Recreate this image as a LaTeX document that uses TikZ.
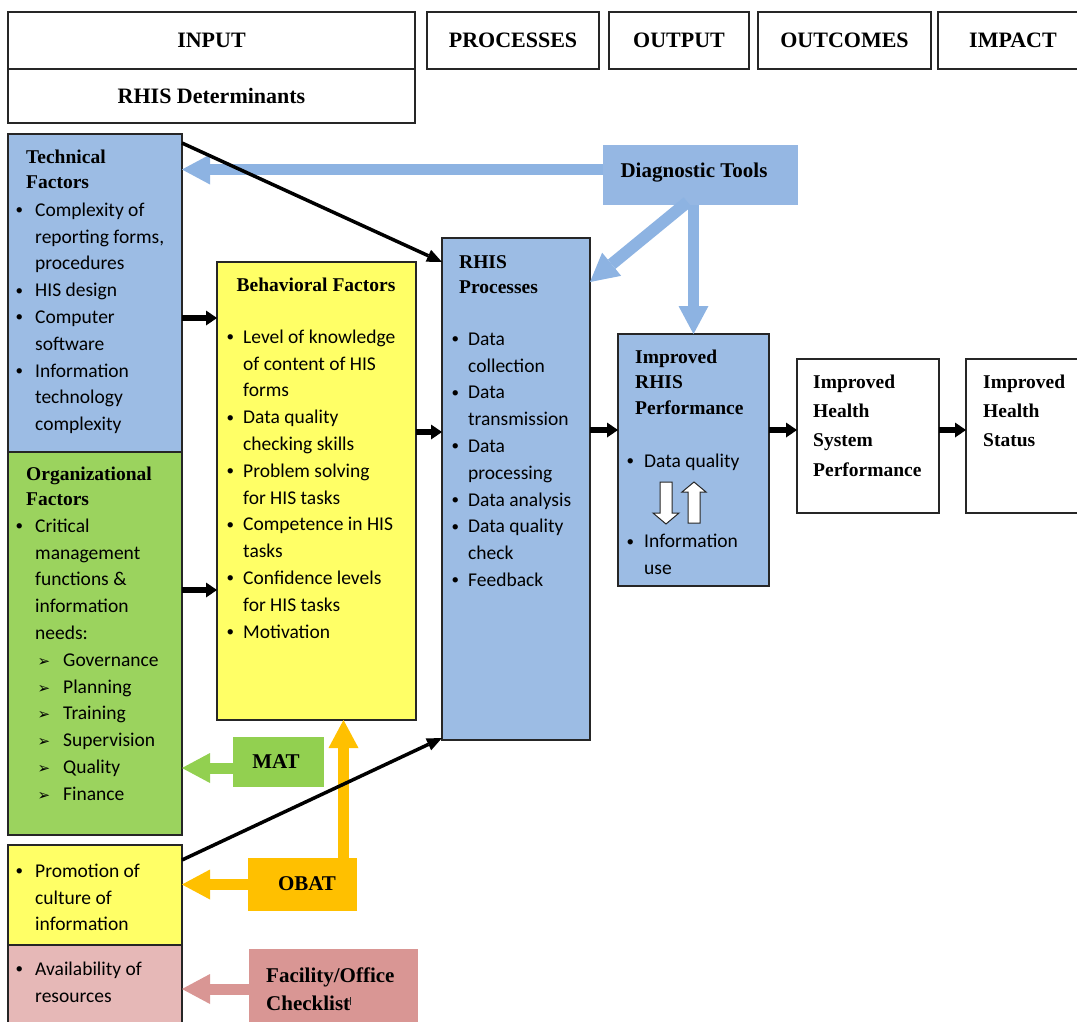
\documentclass[tikz,border=0pt]{standalone}
\usepackage{fontspec}
\setmainfont{Liberation Serif}
\setsansfont{Carlito}
\newfontfamily\symfont{DejaVu Sans}
\usetikzlibrary{arrows.meta,calc}

\definecolor{techblue}{HTML}{9CBCE4}
\definecolor{diagblue}{HTML}{95B7E3}
\definecolor{arrblue}{HTML}{8DB3E2}
\definecolor{orggreen}{HTML}{9BD35E}
\definecolor{matgreen}{HTML}{92D050}
\definecolor{ylw}{HTML}{FFFF66}
\definecolor{amber}{HTML}{FFC000}
\definecolor{rose}{HTML}{E6B8B7}
\definecolor{roseDark}{HTML}{D99694}
\definecolor{edge}{HTML}{262626}

% list lines: bullet item, continuation line, arrow sub-item
\newcommand\dotmark{\raisebox{1.5pt}{\fontsize{15pt}{15pt}\selectfont\textbullet}}
\newcommand\bl[2][11pt]{\strut\llap{\dotmark\hspace{#1}}#2}
\newcommand\cl[1]{\strut#1}
\newcommand\al[1]{\strut\hspace*{28pt}\llap{{\symfont\fontsize{15pt}{15pt}\selectfont ➢}\hspace{13pt}}#1}

\tikzset{
  box/.style={draw=edge, line width=1.2pt, anchor=north west, inner sep=0pt, outer sep=0pt},
  plain/.style={anchor=north west, inner sep=0pt, outer sep=0pt},
  hdr/.style={font=\fontsize{22pt}{26pt}\selectfont\bfseries},
  head/.style={anchor=north west, inner sep=0pt, align=left, font=\fontsize{19.5pt}{25.5pt}\selectfont\bfseries},
  headwide/.style={anchor=north west, inner sep=0pt, align=left, font=\fontsize{19.5pt}{29.3pt}\selectfont\bfseries},
  body/.style={anchor=north west, inner sep=0pt, align=left, font=\sffamily\fontsize{19.5pt}{26.8pt}\selectfont},
  tag/.style={inner sep=0pt, font=\fontsize{21pt}{28pt}\selectfont\bfseries},
  flow/.style={line width=5.5pt, -{Triangle[length=11pt,width=15pt,line width=0pt]}},
  link/.style={line width=3.5pt, -{Triangle[length=15pt,width=13pt,line width=0pt]}},
  block/.style={line width=11pt, -{Triangle[length=28pt,width=30pt,line width=0pt]}},
}

\begin{document}
\begin{tikzpicture}[x=1pt,y=-1pt]
\useasboundingbox (0,0) rectangle (1077,1021);

% column headers
\node[box,hdr,minimum width=407pt,minimum height=57pt] (inp) at (8,12) {INPUT};
\node[box,hdr,minimum width=407pt,minimum height=54pt] (determ) at (8,69) {RHIS Determinants};
\node[box,hdr,minimum width=172pt,minimum height=57pt] (proc) at (427,12) {PROCESSES};
\node[box,hdr,minimum width=140pt,minimum height=57pt] (outp) at (609,12) {OUTPUT};
\node[box,hdr,minimum width=173pt,minimum height=57pt] (outc) at (758,12) {OUTCOMES};
\node[box,hdr,minimum width=150pt,minimum height=57pt] (impact) at (938,12) {IMPACT};

% determinant boxes
\node[box,fill=techblue,minimum width=174pt,minimum height=318pt] (tech) at (8,134) {};
\node[box,fill=orggreen,minimum width=174pt,minimum height=383pt] (org) at (8,452) {};
\node[box,fill=ylw,minimum width=174pt,minimum height=100pt] (promo) at (8,845) {};
\node[box,fill=rose,minimum width=174pt,minimum height=95pt] (avail) at (8,945) {};
\node[box,fill=ylw,minimum width=199pt,minimum height=458pt] (behav) at (217,262) {};

% processes and results
\node[box,fill=techblue,minimum width=148pt,minimum height=502pt] (rhis) at (442,238) {};
\node[box,fill=techblue,minimum width=151pt,minimum height=252pt] (imp) at (618,334) {};
\node[box,minimum width=142pt,minimum height=154pt] (ihs) at (797,359) {};
\node[box,minimum width=125pt,minimum height=154pt] (ihst) at (966,359) {};

% assessment tools
\node[plain,fill=diagblue,minimum width=195pt,minimum height=60pt] (diag) at (603,145) {};
\node[plain,fill=matgreen,minimum width=91pt,minimum height=50pt] (mat) at (233,737) {};
\node[plain,fill=amber,minimum width=109pt,minimum height=53pt] (obat) at (248,858) {};
\node[plain,fill=roseDark,minimum width=169pt,minimum height=80pt] (fac) at (249,949) {};

% texts
\node[head] (techhd) at (26,145.15) {\strut Technical\\\strut Factors};
\node[body] (techtx) at (35,197.24) {\bl[12pt]{Complexity of}\\\cl{reporting forms,}\\\cl{procedures}\\\bl[12pt]{HIS design}\\\bl[12pt]{Computer}\\\cl{software}\\\bl[12pt]{Information}\\\cl{technology}\\\cl{complexity}};

\node[head] (orghd) at (26,462.15) {\strut Organizational\\\strut Factors};
\node[body] (orgtx) at (35,513.24) {\bl[12pt]{Critical}\\\cl{management}\\\cl{functions \&}\\\cl{information}\\\cl{needs:}\\\al{Governance}\\\al{Planning}\\\al{Training}\\\al{Supervision}\\\al{Quality}\\\al{Finance}};

\node[head,anchor=base] (behavhd) at (316,291) {Behavioral Factors};
\node[body] (behavtx) at (243,324.24) {\bl[9pt]{Level of knowledge}\\\cl{of content of HIS}\\\cl{forms}\\\bl[9pt]{Data quality}\\\cl{checking skills}\\\bl[9pt]{Problem solving}\\\cl{for HIS tasks}\\\bl[9pt]{Competence in HIS}\\\cl{tasks}\\\bl[9pt]{Confidence levels}\\\cl{for HIS tasks}\\\bl[9pt]{Motivation}};

\node[head] (rhishd) at (459,250.15) {\strut RHIS\\\strut Processes};
\node[body] (rhistx) at (468,326.24) {\bl[9pt]{Data}\\\cl{collection}\\\bl[9pt]{Data}\\\cl{transmission}\\\bl[9pt]{Data}\\\cl{processing}\\\bl[9pt]{Data analysis}\\\bl[9pt]{Data quality}\\\cl{check}\\\bl[9pt]{Feedback}};

\node[head] (imphd) at (635,345.15) {\strut Improved\\\strut RHIS\\\strut Performance};
\node[body] (imptx) at (644,448.24) {\bl[10pt]{Data quality}\\\strut\\\strut\\\bl[10pt]{Information}\\\cl{use}};

\node[headwide] (ihstx) at (813,367.5) {\strut Improved\\\strut Health\\\strut System\\\strut Performance};
\node[headwide] (ihsttx) at (983,367.5) {\strut Improved\\\strut Health\\\strut Status};

\node[body] (promotx) at (35,858.24) {\bl[12pt]{Promotion of}\\\cl{culture of}\\\cl{information}};
\node[body] (availtx) at (35,956.24) {\bl[12pt]{Availability of}\\\cl{resources}};

\node[tag,anchor=base] (diagtx) at (694,177) {Diagnostic Tools};
\node[tag,anchor=base] (mattx) at (276,768) {MAT};
\node[tag,anchor=base] (obattx) at (307,890) {OBAT};
\node[tag,anchor=north west,align=left] (factx) at (266,962.4) {\strut Facility/Office\\\strut Checklist\raisebox{5pt}{\color{edge}\rule{0.6pt}{8pt}}};

% rows used by the horizontal connectors
\coordinate (r318) at (0,318);
\coordinate (r590) at (0,590);
\coordinate (r432) at (0,432);
\coordinate (r430) at (0,430);
\coordinate (r262) at (0,262);

% tool arrows
\draw[block,arrblue] ([yshift=5.5pt]diag.west) -- ([yshift=5.5pt]diag.west -| tech.east);
\draw[block,arrblue,line width=12pt] ([xshift=-13pt,yshift=3pt]diag.south) -- ($(rhis.north east)+(0,44)$);
\draw[block,arrblue] (diag.south -| imp.north) -- (imp.north);
\draw[block,matgreen] ([yshift=-6pt]mat.west) -- ([yshift=-6pt]mat.west -| org.east);
\draw[block,amber] (obat.west) -- (obat.west -| promo.east);
\draw[block,amber] ([xshift=41pt]obat.north) -- ([xshift=41pt]obat.north |- behav.south);
\draw[block,roseDark] (fac.west) -- (fac.west -| avail.east);

% main flow
\draw[flow] (tech.east |- r318) -- (behav.west |- r318);
\draw[flow] (org.east |- r590) -- (behav.west |- r590);
\draw[flow] (behav.east |- r432) -- (rhis.west |- r432);
\draw[flow] (rhis.east |- r430) -- (imp.west |- r430);
\draw[flow] (imp.east |- r430) -- (ihs.west |- r430);
\draw[flow] (ihs.east |- r430) -- (ihst.west |- r430);

% direct links into the processes
\draw[link] ([yshift=-9pt]tech.north east) -- (rhis.west |- r262);
\draw[link] ([yshift=-15pt]promo.north east) -- ([yshift=2pt]rhis.south west);

% two-way relation between data quality and information use
\draw[draw=edge,fill=white,line width=1pt] (660,482) -- (672,482) -- (672,513) -- (679,513) -- (666,524) -- (653,513) -- (660,513) -- cycle;
\draw[draw=edge,fill=white,line width=1pt] (688,523) -- (700,523) -- (700,492) -- (706,492) -- (694,482) -- (682,492) -- (688,492) -- cycle;
\end{tikzpicture}
\end{document}
